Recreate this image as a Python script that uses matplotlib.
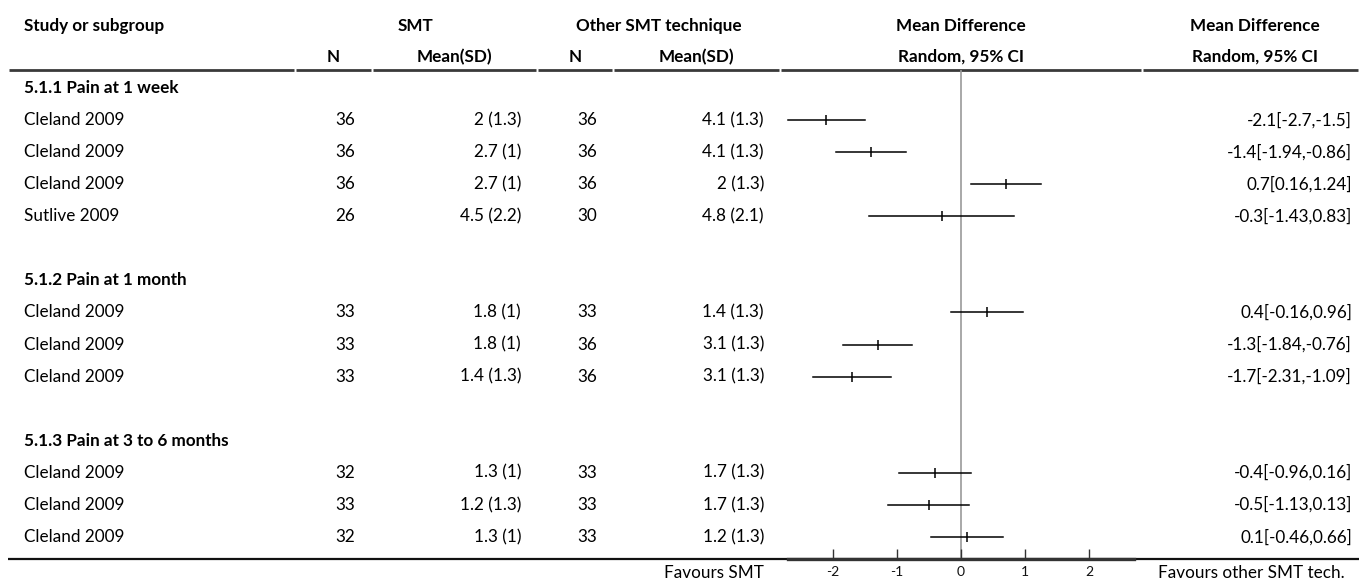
import matplotlib
matplotlib.use("Agg")
import matplotlib.pyplot as plt

# ---------------- data ----------------
groups = ["5.1.1 Pain at 1 week", "5.1.2 Pain at 1 month", "5.1.3 Pain at 3 to 6 months"]
group_sizes = [4, 3, 3]
studies = ["Cleland 2009", "Cleland 2009", "Cleland 2009", "Sutlive 2009",
           "Cleland 2009", "Cleland 2009", "Cleland 2009",
           "Cleland 2009", "Cleland 2009", "Cleland 2009"]
n_smt = [36, 36, 36, 26, 33, 33, 33, 32, 33, 32]
mean_smt = [2, 2.7, 2.7, 4.5, 1.8, 1.8, 1.4, 1.3, 1.2, 1.3]
sd_smt = [1.3, 1, 1, 2.2, 1, 1, 1.3, 1, 1.3, 1]
n_other = [36, 36, 36, 30, 33, 36, 36, 33, 33, 33]
mean_other = [4.1, 4.1, 2, 4.8, 1.4, 3.1, 3.1, 1.7, 1.7, 1.2]
sd_other = [1.3, 1.3, 1.3, 2.1, 1.3, 1.3, 1.3, 1.3, 1.3, 1.3]
md = [-2.1, -1.4, 0.7, -0.3, 0.4, -1.3, -1.7, -0.4, -0.5, 0.1]
ci_low = [-2.7, -1.94, 0.16, -1.43, -0.16, -1.84, -2.31, -0.96, -1.13, -0.46]
ci_high = [-1.5, -0.86, 1.24, 0.83, 0.96, -0.76, -1.09, 0.16, 0.13, 0.66]
x_ticks = [-2, -1, 0, 1, 2]
left_label = "Favours SMT"
right_label = "Favours other SMT tech."

# ---------------- layout ----------------
W, H = 1359, 586
FONT = "Lato"
FS = 12.3
plt.rcParams["font.family"] = [FONT, "DejaVu Sans"]

fig = plt.figure(figsize=(W / 100, H / 100), dpi=100)
tab = fig.add_axes([0, 0, 1, 1])
tab.set_xlim(0, W)
tab.set_ylim(H, 0)
tab.axis("off")

# column boundaries (pixels)
cols = [8, 295, 372, 537, 613, 780, 1142, 1368]
pad = 16
row0, dy = 88, 32.07
header_line_y = 70
bottom_y = 559

def row_y(i):
    return row0 + dy * i

# header texts
h1, h2 = 26, 57
hdr = dict(fontsize=FS, fontweight="bold", va="center")
tab.text(24, h1, "Study or subgroup", ha="left", **hdr)
tab.text((cols[1] + cols[3]) / 2, h1, "SMT", ha="center", **hdr)
tab.text((cols[3] + cols[5]) / 2, h1, "Other SMT technique", ha="center", **hdr)
tab.text((cols[5] + cols[6]) / 2, h1, "Mean Difference", ha="center", **hdr)
tab.text(1255, h1, "Mean Difference", ha="center", **hdr)
tab.text((cols[1] + cols[2]) / 2, h2, "N", ha="center", **hdr)
tab.text((cols[2] + cols[3]) / 2, h2, "Mean(SD)", ha="center", **hdr)
tab.text((cols[3] + cols[4]) / 2, h2, "N", ha="center", **hdr)
tab.text((cols[4] + cols[5]) / 2, h2, "Mean(SD)", ha="center", **hdr)
tab.text((cols[5] + cols[6]) / 2, h2, "Random, 95% CI", ha="center", **hdr)
tab.text(1255, h2, "Random, 95% CI", ha="center", **hdr)

# header line segments
for a, b in zip(cols[:-1], cols[1:]):
    tab.plot([a + 1, min(b, W) - 1], [header_line_y, header_line_y], color="#3a3a3a", lw=2.0,
             solid_capstyle="butt")
# bottom line
tab.plot([8, W], [bottom_y, bottom_y], color="#111111", lw=1.6, solid_capstyle="butt")

# forest axes
fx0, fx1 = cols[5], cols[6]
ax = fig.add_axes([fx0 / W, (H - bottom_y) / H, (fx1 - fx0) / W, (bottom_y - header_line_y) / H])
ax.set_xlim(-2.82, 2.82)
ax.set_ylim(bottom_y, header_line_y)
ax.patch.set_visible(False)
for s in ["top", "left", "right"]:
    ax.spines[s].set_visible(False)
ax.spines["bottom"].set_bounds(-2.7, 2.7)
ax.spines["bottom"].set_linewidth(2.4)
ax.spines["bottom"].set_color("#333333")
ax.set_yticks([])
ax.set_xticks(x_ticks)
ax.set_xticklabels([str(t) for t in x_ticks])
ax.tick_params(axis="x", direction="in", length=7, width=1, colors="#333333",
               labelsize=10, labelcolor="#111111", pad=5)
ax.axvline(0, color="#9a9a9a", lw=1.2, zorder=1)

# rows
r = 0
k = 0
for g, size in zip(groups, group_sizes):
    tab.text(24, row_y(r), g, fontsize=FS, fontweight="bold", va="center", ha="left")
    r += 1
    for _ in range(size):
        y = row_y(r)
        tab.text(24, y, studies[k], fontsize=FS, va="center", ha="left")
        tab.text(cols[2] - pad - 1, y, f"{n_smt[k]}", fontsize=FS, va="center", ha="right")
        tab.text(cols[3] - pad, y, f"{mean_smt[k]:g} ({sd_smt[k]:g})", fontsize=FS, va="center", ha="right")
        tab.text(cols[4] - pad, y, f"{n_other[k]}", fontsize=FS, va="center", ha="right")
        tab.text(cols[5] - pad, y, f"{mean_other[k]:g} ({sd_other[k]:g})", fontsize=FS, va="center", ha="right")
        tab.text(1352, y, f"{md[k]:g}[{ci_low[k]:g},{ci_high[k]:g}]", fontsize=FS, va="center", ha="right")
        ax.plot([ci_low[k], ci_high[k]], [y, y], color="black", lw=1.1, zorder=3)
        ax.plot([md[k]], [y], marker="|", color="black", markersize=7, mew=1.1, zorder=4)
        r += 1
        k += 1
    r += 1

# favours labels
tab.text(cols[5] - pad, 573, left_label, fontsize=FS, va="center", ha="right")
tab.text(cols[6] + pad, 573, right_label, fontsize=FS, va="center", ha="left")

fig.savefig("out.png", dpi=100)
